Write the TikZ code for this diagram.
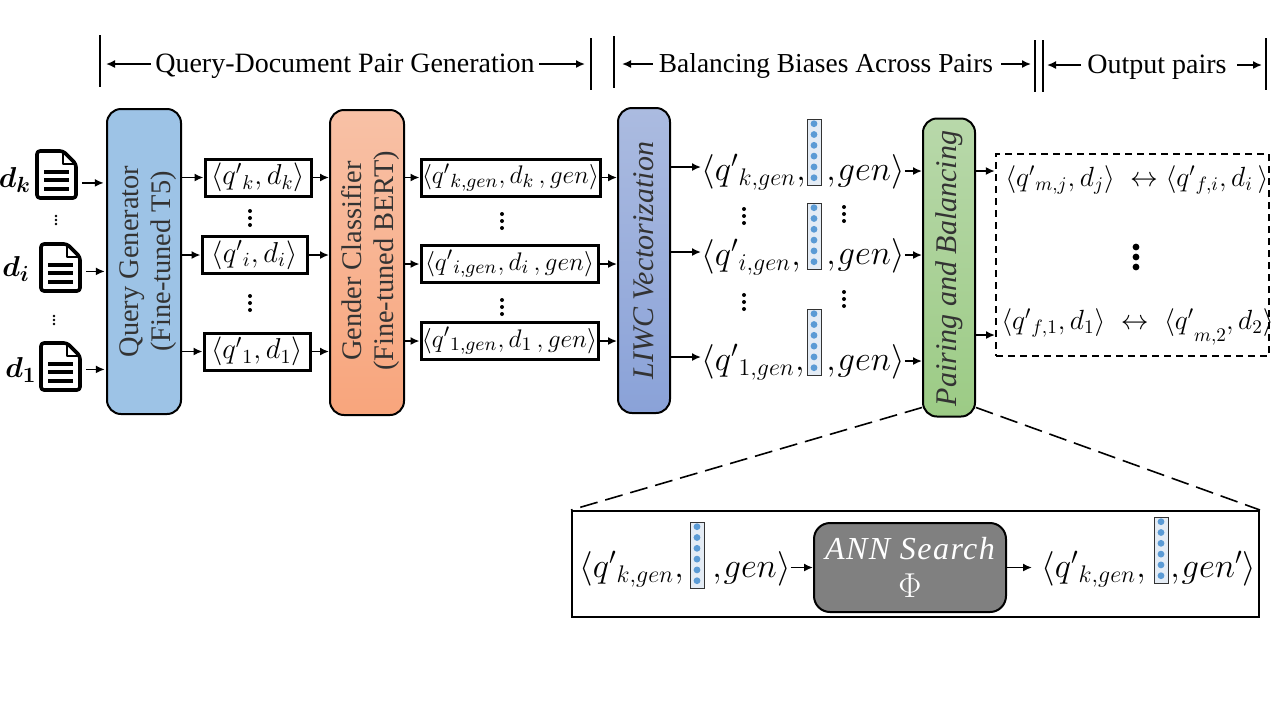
\documentclass[tikz,border=0pt]{standalone}
\usepackage{bm}
\usepackage{fontspec}
\setmainfont{Liberation Serif}
\usetikzlibrary{arrows.meta}

\definecolor{qgenblue}{HTML}{9DC3E6}
\definecolor{dotblue}{HTML}{5B9BD5}
\definecolor{vecfill}{HTML}{E4ECF5}
\definecolor{gclftop}{HTML}{F8C1A6}
\definecolor{gclfbot}{HTML}{F8A57C}
\definecolor{liwctop}{HTML}{ABBBE0}
\definecolor{liwcbot}{HTML}{8AA2D8}
\definecolor{baltop}{HTML}{B8D8AA}
\definecolor{balbot}{HTML}{9CCB85}

\tikzset{
    stage/.style={draw, line width=1pt, rounded corners=7pt, minimum width=37pt, inner sep=0pt},
    stagetext/.style={rotate=90, align=center, text=black!80, font=\fontsize{14.2}{16}\selectfont, inner sep=0pt},
    pairbox/.style={draw, line width=1.5pt, minimum height=18.5pt, inner sep=0pt, font=\fontsize{14.5}{16}\selectfont},
    genbox/.style={pairbox, font=\fontsize{12.5}{15}\selectfont},
    tuple/.style={anchor=west, inner sep=0pt, text height=18pt, text depth=5pt, font=\fontsize{17}{19}\selectfont},
    outline/.style={anchor=west, inner sep=0pt, font=\fontsize{14.6}{16}\selectfont},
    heading/.style={inner sep=0pt, font=\fontsize{14}{15}\selectfont},
    vecbar/.style={draw=black!80, line width=.5pt, fill=vecfill, minimum width=7pt, minimum height=33pt, inner sep=0pt},
    link/.style={->, line width=.8pt},
    zoomline/.style={dash pattern=on 9pt off 4pt, line width=.8pt},
}

% vector of dots, name x y
\newcommand{\liwcvec}[3]{
    \node[vecbar] (#1) at (#2,#3) {};
    \foreach \i in {0,...,5}
        \fill[dotblue] ([yshift={-2.6pt-5.4pt*\i}]#1.north) circle (1.7pt);
}
% document icon, name x y (top left corner)
\newcommand{\docicon}[3]{
    \node[minimum width=20.5pt, minimum height=24.5pt, inner sep=0pt, anchor=north west] (#1) at (#2,#3) {};
    \begin{scope}[shift={(#2,#3)}]
        \draw[line width=1.8pt, line join=round, rounded corners=1.5pt] (0,0) -- (26,0) -- (39,13) -- (39,47) -- (0,47) -- cycle;
        \draw[line width=1.2pt, line join=round] (26,0) -- (26,13) -- (39,13);
        \foreach \y in {21,29,38}
            \draw[line width=1.9pt] (7,\y) -- (32,\y);
    \end{scope}
}
% column of three dots, name x y radius gap
\newcommand{\dotcol}[5]{
    \coordinate (#1) at (#2,#3);
    \foreach \s in {-1,0,1}
        \fill (#1) ++(0,\s*#5) circle (#4);
}

\begin{document}
\begin{tikzpicture}[x=.5pt, y=-.5pt, >={Latex[length=4.5pt,width=4pt]}]
    \useasboundingbox (0,0) rectangle (1280,720);

    % heading
    \node[heading] (hquery) at (345,66) {Query-Document Pair Generation};
    \node[heading, font=\fontsize{13.7}{15}\selectfont] (hbias) at (826,66) {Balancing Biases Across Pairs};
    \node[heading] (hout) at (1157,67) {Output pairs};
    \coordinate (va) at (100,35);
    \coordinate (vb) at (591,38);
    \coordinate (vc) at (614,36);
    \coordinate (vd) at (1035,40);
    \coordinate (ve) at (1043,40);
    \coordinate (vf) at (1266,38);
    \foreach \v in {va,vb,vc,vd,ve,vf}
        \draw[line width=.8pt] (\v) -- ++(0,52);
    \draw[link, shorten >=3pt, shorten <=2pt] ([yshift=1pt]hquery.west) -- ([yshift=1pt]hquery.west -| va);
    \draw[link, shorten >=3pt, shorten <=2pt] ([yshift=1pt]hquery.east) -- ([yshift=1pt]hquery.east -| vb);
    \draw[link, shorten >=4pt, shorten <=3pt] ([yshift=1pt]hbias.west) -- ([yshift=1pt]hbias.west -| vc);
    \draw[link, shorten >=2pt, shorten <=4pt] ([yshift=1pt]hbias.east) -- ([yshift=1pt]hbias.east -| vd);
    \draw[link, shorten >=2pt, shorten <=3pt] ([yshift=1pt]hout.west) -- ([yshift=1pt]hout.west -| ve);
    \draw[link, shorten >=2pt, shorten <=5pt] ([yshift=1pt]hout.east) -- ([yshift=1pt]hout.east -| vf);

    % documents
    \docicon{dock}{37}{151}
    \docicon{doci}{41}{244}
    \docicon{docone}{41}{343}
    \node[inner sep=0pt, font=\fontsize{15}{16}\selectfont] (labk) at (15,180) {$\bm{d_k}$};
    \node[inner sep=0pt, font=\fontsize{15}{16}\selectfont] (labi) at (16,269) {$\bm{d_i}$};
    \node[inner sep=0pt, font=\fontsize{15}{16}\selectfont] (labone) at (21,370) {$\bm{d_1}$};
    \dotcol{dotsa}{56}{220}{.7pt}{4}
    \dotcol{dotsb}{54}{320}{.7pt}{4}

    % stages
    \node[stage, fill=qgenblue, minimum height=152.5pt] (qgen) at (144,261.5) {};
    \node[stagetext] (qgentext) at (148,261.5) {Query Generator\\(Fine-tuned T5)};
    \node[stage, top color=gclftop, bottom color=gclfbot, minimum height=152.5pt] (gclf) at (367,262.5) {};
    \node[stagetext] (gclftext) at (371,261) {Gender Classifier\\(Fine-tuned BERT)};
    \node[stage, minimum width=26pt, top color=liwctop, bottom color=liwcbot, minimum height=152.5pt] (liwc) at (644,260.5) {};
    \node[stagetext, font=\fontsize{15}{16}\itshape] (liwctext) at (liwc) {LIWC Vectorization};
    \node[stage, minimum width=26pt, top color=baltop, bottom color=balbot, minimum height=149pt] (bal) at (949,267.5) {};
    \node[stagetext, font=\fontsize{15}{16}\itshape] (baltext) at (949,268.5) {Pairing and Balancing};

    % query document pairs
    \node[pairbox, minimum width=53pt] (pairk) at (258,177.5) {$\langle q'{}_{k},d_k\rangle$};
    \node[pairbox, minimum width=52.5pt] (pairi) at (254.5,255) {$\langle q'{}_{i},d_i\rangle$};
    \node[pairbox, minimum width=53pt] (pairone) at (257,351.5) {$\langle q'{}_{1},d_1\rangle$};
    \dotcol{dotsc}{250}{218}{1pt}{7}
    \dotcol{dotsd}{250}{303}{1pt}{7}

    \node[genbox, minimum width=89.5pt] (genk) at (510.5,177.5) {\scalebox{1.06}{$\langle q'{}_{k,gen},d_k\,,gen\rangle$}};
    \node[genbox, minimum width=88.5pt] (geni) at (509.5,264) {\scalebox{1.06}{$\langle q'{}_{i,gen},d_i\,,gen\rangle$}};
    \node[genbox, minimum width=88.5pt] (genone) at (509.5,341) {\scalebox{1.06}{$\langle q'{}_{1,gen},d_1\,,gen\rangle$}};
    \dotcol{dotse}{502}{221}{1pt}{7}
    \dotcol{dotsf}{502}{307}{1pt}{7}

    % vectorized tuples
    \node[tuple] (tupk) at (701,167) {$\langle q'{}_{k,gen},$};
    \node[tuple] (tupi) at (701,252) {$\langle q'{}_{i,gen},$};
    \node[tuple] (tupone) at (701,357) {$\langle q'{}_{1,gen},$};
    \liwcvec{veck}{814}{152}
    \liwcvec{veci}{814}{236}
    \liwcvec{vecone}{814}{342}
    \node[tuple] (endk) at (826,167) {$,\mkern-2mu gen\rangle$};
    \node[tuple] (endi) at (826,251) {$,\mkern-2mu gen\rangle$};
    \node[tuple] (endone) at (826,357) {$,\mkern-2mu gen\rangle$};
    \dotcol{dotsg}{744}{216}{1pt}{7}
    \dotcol{dotsh}{744}{302}{1pt}{7}
    \dotcol{dotsi}{844}{214}{1pt}{7}
    \dotcol{dotsj}{844}{299}{1pt}{7}

    % output pairs
    \node[draw, dash pattern=on 3.5pt off 2.5pt, line width=1.2pt, minimum width=136.5pt, minimum height=101pt, inner sep=0pt] (outbox) at (1132.5,255) {};
    \node[outline] (outa) at (1005,180) {\scalebox{.963}{$\langle q'{}_{m,j},d_j\rangle\;\leftrightarrow\langle q'{}_{f,i},d_i\,\rangle$}};
    \node[outline] (outb) at (1001,327) {\scalebox{.963}{$\langle q'{}_{f,1},d_1\rangle\;\leftrightarrow\;\langle q'\lower6pt\hbox{$\scriptstyle m,2$},d_2\rangle$}};
    \dotcol{dotsk}{1136}{257}{1.7pt}{10}

    % zoomed search
    \node[draw, line width=1pt, minimum width=343.5pt, minimum height=53pt, inner sep=0pt] (zoombox) at (915.5,564) {};
    \draw[zoomline] (bal.south west) ++(0,-10) -- (zoombox.north west);
    \draw[zoomline] (bal.south east) ++(0,-10) -- (zoombox.north east);
    \node[tuple] (tupz) at (579,564) {$\langle q'{}_{k,gen},$};
    \liwcvec{vecz}{697}{555}
    \node[tuple] (endz) at (712,564) {$,\mkern-2mu gen\rangle$};
    \node[draw, line width=1pt, fill=black!50, rounded corners=8pt, minimum width=96pt, minimum height=44.5pt, inner sep=0pt] (ann) at (910,567.5) {};
    \node[align=center, text=white, inner sep=0pt, font=\fontsize{16}{19}\selectfont] (anntext) at (ann) {{\itshape\addfontfeature{LetterSpace=4.7}ANN Search}\\{\fontsize{18}{19}\selectfont$\Phi$}};
    \node[tuple] (tupy) at (1041,564) {$\langle q'{}_{k,gen},$};
    \liwcvec{vecy}{1161}{550}
    \node[tuple] (endy) at (1170,564) {$,\mkern-2mu gen'\rangle$};

    % connectors
    \draw[link] ([yshift=-3.5pt]dock.east) ++(3,0) -- ++(22,0);
    \draw[link] ([yshift=-1.25pt]doci.east) ++(3,0) -- ++(19,0);
    \draw[link] ([yshift=-.75pt]docone.east) ++(3,0) -- ++(19,0);
    \foreach \p in {pairk,pairi,pairone} {
        \draw[link] (qgen.east |- \p.west) -- (\p.west);
        \draw[link] (\p.east) -- (\p.east -| gclf.west);
    }
    \foreach \p in {genk,geni,genone} {
        \draw[link] (gclf.east |- \p.west) -- (\p.west);
        \draw[link] (\p.east) -- (\p.east -| liwc.west);
    }
    \foreach \p in {tupk,tupi,tupone}
        \draw[link] (liwc.east |- \p.west) -- (\p.west);
    \foreach \p in {endk,endi,endone}
        \draw[link] ([yshift=-2pt]\p.east) -- ([yshift=-2pt]\p.east -| bal.west);
    \draw[link] ([yshift=-2pt]bal.east |- endk.east) -- ([yshift=-2pt]outbox.west |- endk.east);
    \draw[link] (bal.east |- outb.west) ++(0,8) -- ++(19,0);
    \draw[link] (endz.east |- ann.west) -- (ann.west);
    \draw[link, shorten >=4.5pt] (ann.east) -- (ann.east -| tupy.west);
\end{tikzpicture}
\end{document}
